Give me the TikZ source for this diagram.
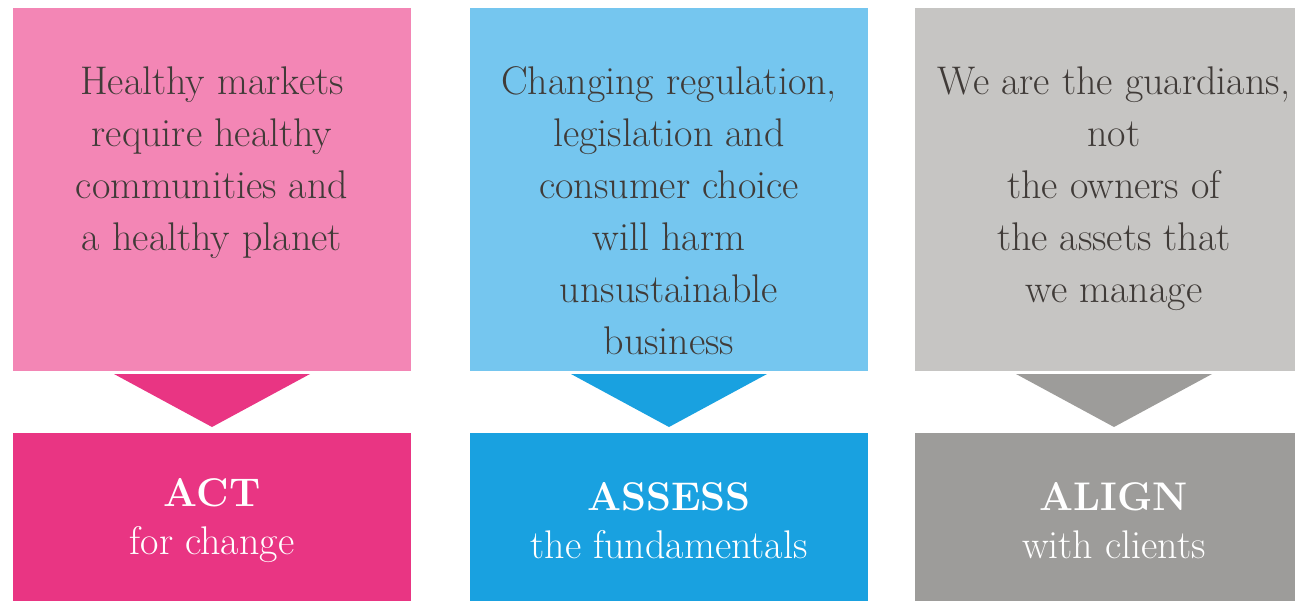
\documentclass[tikz,border=0pt]{standalone}
\usepackage{xcolor}
\usetikzlibrary{positioning}

\definecolor{pinklight}{HTML}{F386B5}
\definecolor{pinkdark}{HTML}{E93583}
\definecolor{bluelight}{HTML}{75C6EF}
\definecolor{bluedark}{HTML}{19A1E0}
\definecolor{greylight}{HTML}{C6C5C3}
\definecolor{greydark}{HTML}{9D9C9A}
\definecolor{msgtext}{HTML}{403B38}

\tikzset{
  topbox/.style={minimum width=199pt, minimum height=181.5pt, inner sep=0pt, outer sep=0pt},
  bottombox/.style={minimum width=199pt, minimum height=87.5pt, inner sep=0pt, outer sep=0pt,
    text=white, align=center, font=\fontsize{20}{24}\selectfont},
  topmsg/.style={anchor=north, inner sep=0pt, text=msgtext, align=center,
    font=\fontsize{20}{26}\selectfont},
}

\begin{document}
\begin{tikzpicture}[x=0.5pt, y=-0.5pt]
    \clip (0,0) rectangle (1295,600);

    \node[topbox, fill=pinklight] (healthy) at (212,189.5) {};
    \node[topbox, fill=bluelight, right=29.5pt of healthy] (changing) {};
    \node[topbox, fill=greylight, right=23.5pt of changing] (guardians) {};

    \node[topmsg] (healthytext) at ([yshift=-29pt]healthy.north)
        {Healthy markets\\ require healthy\\ communities and\\ a healthy planet};
    \node[topmsg] (changingtext) at ([yshift=-29pt]changing.north)
        {Changing regulation,\\ legislation and\\ consumer choice\\ will harm\\ unsustainable\\ business};
    \node[topmsg] (guardianstext) at ([yshift=-29pt]guardians.north)
        {We are the guardians,\\ not\\ the owners of\\ the assets that\\ we manage};

    \node[bottombox, fill=pinkdark, below=31pt of healthy] (act)
        {\textbf{ACT}\\ for change};
    \node[bottombox, fill=bluedark, below=31pt of changing] (assess)
        {\textbf{ASSESS}\\ the fundamentals};
    \node[bottombox, fill=greydark, below=31pt of guardians] (align)
        {\textbf{ALIGN}\\ with clients};

    \fill[pinkdark] ([xshift=-49pt,yshift=-1.5pt]healthy.south) -- ([xshift=49pt,yshift=-1.5pt]healthy.south)
        -- ([yshift=3pt]act.north) -- cycle;
    \fill[bluedark] ([xshift=-49pt,yshift=-1.5pt]changing.south) -- ([xshift=49pt,yshift=-1.5pt]changing.south)
        -- ([yshift=3pt]assess.north) -- cycle;
    \fill[greydark] ([xshift=-49pt,yshift=-1.5pt]guardians.south) -- ([xshift=49pt,yshift=-1.5pt]guardians.south)
        -- ([yshift=3pt]align.north) -- cycle;
\end{tikzpicture}
\end{document}
